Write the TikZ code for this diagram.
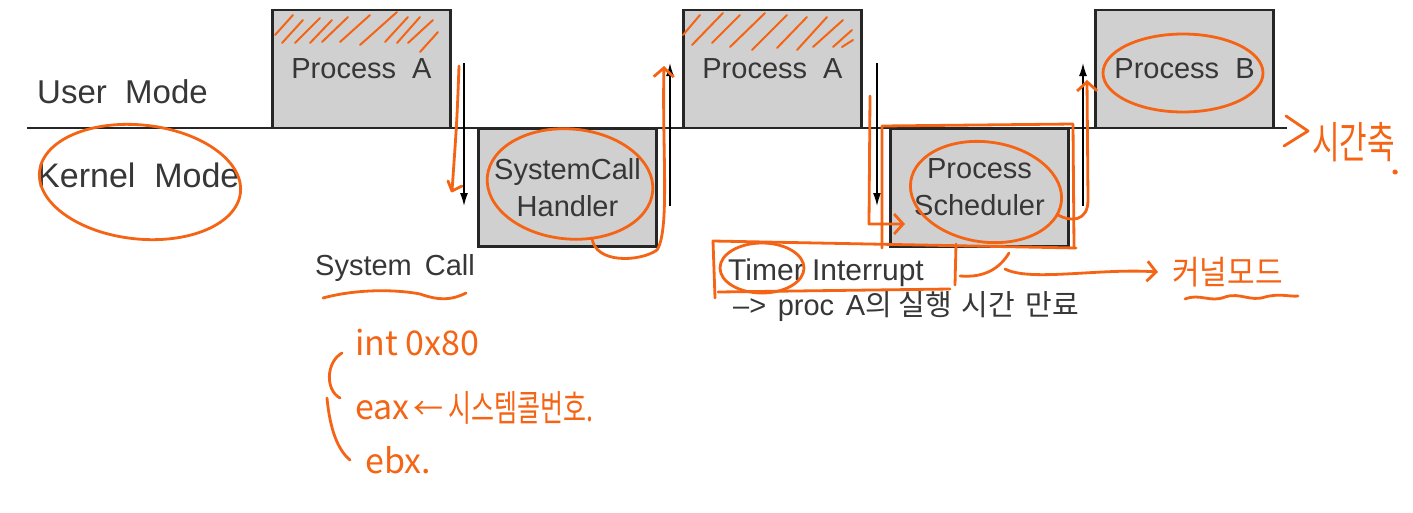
\documentclass[tikz,border=0pt]{standalone}
\usepackage{fontspec}
\setmainfont{Liberation Sans}
\newfontfamily\kr{Noto Sans CJK KR}
\usetikzlibrary{arrows.meta}
\definecolor{pen}{RGB}{245,100,20}
\definecolor{boxfill}{RGB}{208,208,208}
\definecolor{ink}{RGB}{55,55,55}
\begin{document}
\begin{tikzpicture}[x=1pt,y=-1pt,
  procbox/.style={draw=black!85, line width=2.6pt, fill=boxfill, inner sep=0pt, outer sep=0pt,
    minimum width=178pt, minimum height=118pt, align=center, text=ink, font=\fontsize{29}{37}\selectfont},
  lbl/.style={text=ink, inner sep=0pt, anchor=base west},
  flow/.style={line width=1.4pt, -{Latex[length=13pt,width=8pt]}},
  pen/.style={draw=pen, line width=2.8pt, line cap=round, line join=round},
  barb/.style={-{Straight Barb[length=9pt,width=20pt]}},
  hand/.style={text=pen, inner sep=0pt, font=\kr\fontsize{30}{36}\selectfont}]
\useasboundingbox (0,0) rectangle (1413,512);
\fill[white] (0,0) rectangle (1413,512);

% time axis
\coordinate (axL) at (27,128);
\coordinate (axR) at (1287,128);
\draw[line width=2.8pt, black!85] (axL) -- (axR);

% boxes
\node[procbox] (pa1) at (361.5,69) {Process\ \ A};
\node[procbox] (sch) at (567.5,187.5) {SystemCall\\Handler};
\node[procbox] (pa2) at (772.5,69) {Process\ \ A};
\node[procbox] (psch) at (979.5,187.5) {Process\\Scheduler};
\node[procbox] (pb) at (1184.5,69) {Process\ \ B};

% hatching in Process A boxes
\foreach \a/\b/\c/\d in {275/35/293/15, 282/43/303/20, 295/43/320/18, 310/43/332/20, 322/42/348/17,
  340/42/370/15, 360/45/397/12, 385/42/408/17, 397/43/420/17, 408/43/433/20, 420/52/438/32}
  \draw[pen, line width=2pt] (\a,\b) -- (\c,\d);
\foreach \a/\b/\c/\d in {683/35/700/15, 692/45/723/13, 712/43/740/15, 730/47/765/13, 752/50/787/15,
  777/48/807/17, 797/50/827/17, 813/47/843/20, 833/47/852/30, 842/47/853/40}
  \draw[pen, line width=2pt] (\a,\b) -- (\c,\d);

% labels
\node[lbl, font=\fontsize{33}{38}\selectfont] (um) at (37,103) {User\ \ Mode};
\node[lbl, font=\fontsize{34}{38}\selectfont] (km) at (37,187) {Kernel\ \ Mode};
\node[lbl, font=\fontsize{29}{36}\selectfont] (sc) at (315,275) {System\hspace{0.45em}Call};
\node[lbl, font=\fontsize{30}{36}\selectfont] (ti) at (728,280) {Timer\ Interrupt};
\node[lbl, font=\fontsize{29}{36}\selectfont] (pr) at (733,315) {–>\hspace{0.4em}proc\hspace{0.4em}A{\kr 의\ 실행\hspace{0.35em}시간\hspace{0.35em}만료}};

% black mode-switch arrows
\coordinate (d1s) at (464,63); \coordinate (d1e) at (464,206);
\coordinate (u1s) at (670,206); \coordinate (u1e) at (670,63);
\coordinate (d2s) at (877,63); \coordinate (d2e) at (877,206);
\coordinate (u2s) at (1083,206); \coordinate (u2e) at (1083,63);
\draw[flow] (d1s) -- (d1e);
\draw[flow] (u1s) -- (u1e);
\draw[flow] (d2s) -- (d2e);
\draw[flow] (u2s) -- (u2e);

% orange annotations
\draw[pen, rotate around={-6:(140,182)}] (140,182) ellipse [x radius=101, y radius=57];
\draw[pen, rotate around={-5:(570,184)}] (570,184) ellipse [x radius=83, y radius=55];
\draw[pen, rotate around={-8:(986,192)}] (986,192) ellipse [x radius=76, y radius=50];
\draw[pen] (1183,73) ellipse [x radius=80, y radius=39];
\draw[pen] (762,268) ellipse [x radius=42, y radius=25];

\draw[pen] (459,66) .. controls (457,120) .. (452,191) -- (462,186);
\draw[pen] (448,181) -- (452,191);
\draw[pen, barb] (592,238) .. controls (595,264) and (640,262) .. (657,250) .. controls (670,230) and (662,150) .. (664,66);
\draw[pen, barb] (870,96) -- (869,224) -- (905,224);
\draw[pen] (882,248) -- (882,126) -- (1073,124) -- (1074,248);
\draw[pen] (715,298) -- (713,241) -- (1076,248);
\draw[pen] (718,292) -- (950,289);
\draw[pen] (956,244) -- (955,285);
\draw[pen] (960,276) .. controls (985,278) and (1000,268) .. (1009,253);
\draw[pen, barb] (1058,215) .. controls (1070,222) and (1088,222) .. (1088,200) -- (1087,80);

\coordinate (kmA) at (1005,269);
\node[hand, anchor=west, font=\kr\fontsize{30}{36}\selectfont] (kmode) at (1172,272) {\scalebox{1}[1.1]{커널모드}};
\draw[pen, barb] (kmA) .. controls (1030,282) and (1100,268) .. ([xshift=-14pt]kmode.west);
\draw[pen] (1185,299) .. controls (1200,293) and (1210,303) .. (1225,297) .. controls (1240,292) and (1250,302) .. (1265,297) .. controls (1280,293) and (1290,297) .. (1298,296);

% time axis label
\draw[pen] (1286,116) -- (1308,131) -- (1284,146);
\node[hand, anchor=west] (tax) at (1312,142) {\scalebox{1}[1.45]{시간축}};
\fill[pen] (1395,172) circle (1.5);

% system call notes
\draw[pen] (323,298) .. controls (360,288) and (400,290) .. (420,294) .. controls (440,301) and (452,300) .. (466,293);
\draw[pen] (342,353) .. controls (326,362) and (325,390) .. (340,398);
\draw[pen] (327,398) .. controls (330,430) and (338,450) .. (350,460);
\node[hand, anchor=west, font=\kr\fontsize{34}{40}\selectfont] (int) at (355,343) {int\ 0x80};
\node[hand, anchor=west, font=\kr\fontsize{34}{40}\selectfont] (eax) at (355,410) {eax};
\node[hand, anchor=west, font=\kr\fontsize{30}{36}\selectfont] (larr) at (413,410) {←};
\node[hand, anchor=west, font=\kr\fontsize{25}{30}\selectfont] (scn) at (448,408) {\scalebox{1}[1.45]{시스템콜번호.}};
\node[hand, anchor=west, font=\kr\fontsize{34}{40}\selectfont] (ebx) at (365,460) {ebx.};
\end{tikzpicture}
\end{document}
